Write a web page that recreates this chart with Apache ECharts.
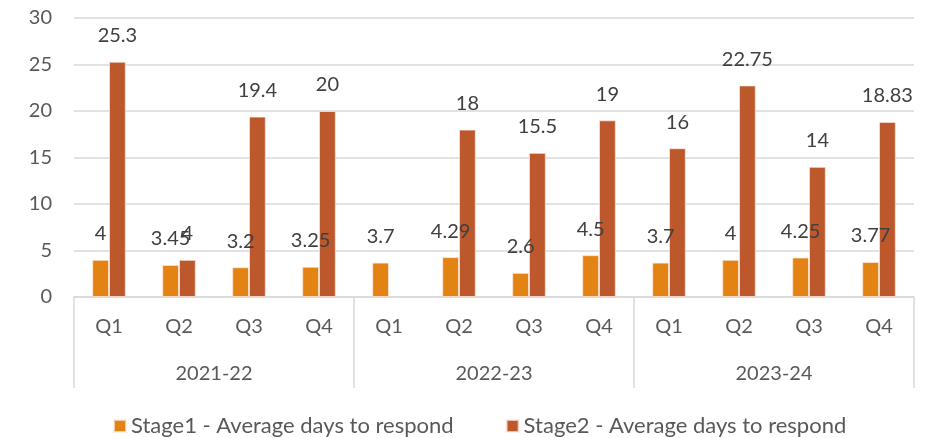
<!DOCTYPE html>
<html>
<head>
<meta charset="utf-8">
<script src="https://cdn.jsdelivr.net/npm/echarts@6/dist/echarts.min.js"></script>
<style>
  html, body { margin: 0; padding: 0; background: #fff; }
  #chart { width: 938px; height: 438px; }
</style>
</head>
<body>
<div id="chart"></div>
<script>
// Quarterly response times, grouped by financial year
const quarters = ['Q1', 'Q2', 'Q3', 'Q4', 'Q1', 'Q2', 'Q3', 'Q4', 'Q1', 'Q2', 'Q3', 'Q4'];
const years = ['2021-22', '2022-23', '2023-24'];
const stage1 = [4, 3.45, 3.2, 3.25, 3.7, 4.29, 2.6, 4.5, 3.7, 4, 4.25, 3.77];
const stage2 = [25.3, 4, 19.4, 20, null, 18, 15.5, 19, 16, 22.75, 14, 18.83];
const seriesNames = ['Stage1 - Average days to respond', 'Stage2 - Average days to respond'];
const yTicks = { min: 0, max: 30, step: 5 };

const FONT = 'Lato, "Open Sans", sans-serif';
const GRID_COLOR = '#d9d9d9';
const AXIS_TEXT = '#595959';
const LABEL_TEXT = '#404040';

const chart = echarts.init(document.getElementById('chart'), null, { renderer: 'canvas' });

function barSeries(name, values, color) {
  return {
    name: name,
    type: 'bar',
    xAxisIndex: 0,
    data: values,
    barWidth: '24%',
    barGap: '0%',
    itemStyle: { color: color, borderColor: 'rgba(255,235,225,0.7)', borderWidth: 1 },
    label: {
      show: true,
      position: 'top',
      distance: 16,
      color: LABEL_TEXT,
      fontFamily: FONT,
      fontSize: 20
    },
    emphasis: { disabled: true },
    animation: false
  };
}

chart.setOption({
  animation: false,
  textStyle: { fontFamily: FONT },
  grid: { left: 74, right: 24, top: 18, bottom: 141, containLabel: false },
  legend: {
    top: 410,
    left: 108,
    icon: 'rect',
    itemWidth: 12,
    itemHeight: 12,
    itemGap: 52,
    textStyle: { color: AXIS_TEXT, fontFamily: FONT, fontSize: 22 },
    data: seriesNames
  },
  xAxis: [
    {
      type: 'category',
      data: quarters,
      position: 'bottom',
      axisLine: { show: true, lineStyle: { color: GRID_COLOR, width: 1.5 } },
      axisTick: { show: false },
      axisLabel: { color: AXIS_TEXT, fontFamily: FONT, fontSize: 20, margin: 20, interval: 0 },
      splitLine: { show: false }
    },
    {
      type: 'category',
      data: years,
      position: 'bottom',
      offset: 0,
      axisLine: { show: false },
      axisTick: { show: true, interval: 0, length: 91, lineStyle: { color: GRID_COLOR, width: 1.5 } },
      axisLabel: { color: AXIS_TEXT, fontFamily: FONT, fontSize: 20, margin: 67, interval: 0 },
      splitLine: { show: false }
    }
  ],
  yAxis: {
    type: 'value',
    min: yTicks.min,
    max: yTicks.max,
    interval: yTicks.step,
    axisLine: { show: false },
    axisTick: { show: false },
    axisLabel: { color: AXIS_TEXT, fontFamily: FONT, fontSize: 20, margin: 22 },
    splitLine: { lineStyle: { color: GRID_COLOR, width: 1.5 } }
  },
  series: [
    barSeries(seriesNames[0], stage1, '#e38313'),
    barSeries(seriesNames[1], stage2, '#bd582c')
  ]
});
</script>
</body>
</html>
